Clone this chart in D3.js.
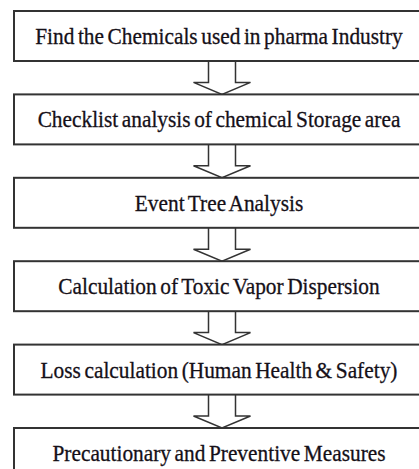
<!DOCTYPE html>
<html>
<head>
<meta charset="utf-8">
<script src="https://cdnjs.cloudflare.com/ajax/libs/d3/7.8.5/d3.min.js"></script>
<style>
  body { margin: 0; background: #fff; }
</style>
</head>
<body>
<div id="chart"></div>
<script>
// flowchart steps, top to bottom
var steps = [
  "Find the Chemicals used in pharma Industry",
  "Checklist analysis of chemical Storage area",
  "Event Tree Analysis",
  "Calculation of Toxic Vapor Dispersion",
  "Loss calculation (Human Health & Safety)",
  "Precautionary and Preventive Measures"
];

var svgWidth = 419;
var svgHeight = 469;

var margin = {top: 11, right: -11, bottom: 41, left: 14};
var boxHeight = 50;
var boxWidth = svgWidth - margin.left - margin.right;

var svg = d3.select("#chart")
  .append("svg")
  .attr("width", svgWidth)
  .attr("height", svgHeight);

// one row per step
var y = d3.scalePoint()
  .domain(d3.range(steps.length))
  .range([margin.top, svgHeight - margin.bottom]);

var cx = margin.left + boxWidth / 2;

// arrows between boxes
var shaftHalf = 13.5, headHalf = 28.5, headH = 12;
svg.selectAll("path.arrow")
  .data(d3.range(steps.length - 1))
  .enter()
  .append("path")
  .attr("class", "arrow")
  .attr("d", i => {
    var top = y(i) + boxHeight;
    var tip = y(i + 1);
    var p = d3.path();
    p.moveTo(cx - shaftHalf, top);
    p.lineTo(cx - shaftHalf, tip - headH);
    p.lineTo(cx - headHalf, tip - headH);
    p.lineTo(cx, tip);
    p.lineTo(cx + headHalf, tip - headH);
    p.lineTo(cx + shaftHalf, tip - headH);
    p.lineTo(cx + shaftHalf, top);
    return p.toString();
  })
  .attr("fill", "#fff")
  .attr("stroke", "#333")
  .attr("stroke-width", 1.5);

// boxes
var rows = svg.selectAll("g.step")
  .data(steps)
  .enter()
  .append("g")
  .attr("class", "step")
  .attr("transform", (d, i) => `translate(0, ${y(i)})`);

rows.append("rect")
  .attr("x", margin.left)
  .attr("y", 0)
  .attr("width", boxWidth)
  .attr("height", boxHeight)
  .attr("fill", "#fff")
  .attr("stroke", "#333")
  .attr("stroke-width", 2);

rows.append("text")
  .attr("transform", `translate(${cx - 3}, 33) scale(0.89, 1)`)
  .attr("text-anchor", "middle")
  .style("font-family", "'Liberation Serif', 'Times New Roman', serif")
  .style("font-size", "24px")
  .style("word-spacing", "-2px")
  .attr("fill", "#151018")
  .attr("stroke", "#151018")
  .attr("stroke-width", 0.3)
  .text(d => d);
</script>
</body>
</html>
